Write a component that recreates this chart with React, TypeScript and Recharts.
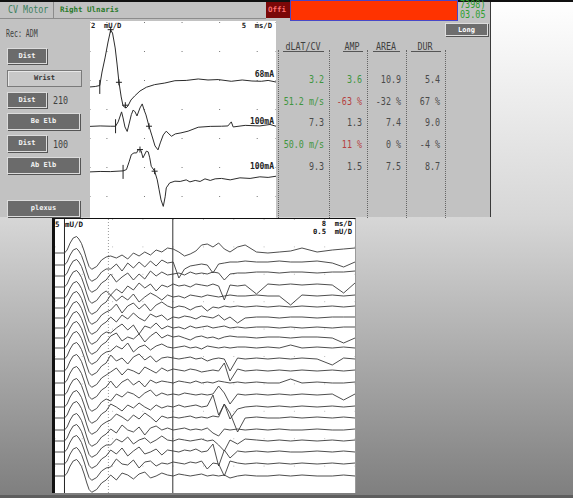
import React from "react";
import {
    LineChart,
    Line,
    XAxis,
    YAxis,
    CartesianGrid,
    ReferenceLine,
    ReferenceDot,
} from "recharts";

const MONO = '"DejaVu Sans Mono", "Liberation Mono", monospace';

// ---- motor conduction traces (ms, mV relative to each trace baseline) ----
const SITE_BASELINE = [7.52, 4.81, 1.66];
const STIM_LABELS = ["68mA", "100mA", "100mA"];

const WRIST_T = [0.5, 1.9, 3.1, 3.7, 4.5, 5.3, 6.0, 6.5, 7.2, 7.7, 8.2, 8.8, 9.3, 10.1, 10.6, 11.4, 12.4, 13.8, 15.5, 17.7, 20.4, 23.1, 26.1, 29.3, 31.9, 34.6, 38.1, 41.0, 43.6, 46.1, 47.9, 50];
const WRIST_MV = [0, 0.03, 0.1, 1.03, 2.0, 3.1, 3.93, 3.72, 2.69, 1.58, 0.34, -0.69, -1.31, -1.45, -1.31, -0.9, -0.62, -0.28, -0.02, 0.16, 0.27, 0.43, 0.45, 0.55, 0.48, 0.51, 0.39, 0.48, 0.41, 0.39, 0.45, 0.34];

const BE_ELB_T = [0.5, 3.2, 5.9, 7.3, 8.0, 8.9, 9.3, 9.8, 10.4, 10.9, 11.5, 12.0, 12.5, 13.0, 13.8, 14.4, 14.9, 15.4, 16.2, 17.0, 17.8, 18.6, 19.2, 20.0, 20.8, 21.5, 22.2, 23.2, 24.7, 26.6, 29.3, 32.5, 35.5, 37.2, 38.1, 38.6, 41.8, 45.7, 48.4, 50];
const BE_ELB_MV = [-0.01, 0.02, 0, 0, 0.3, 0.99, 0.57, -0.05, -0.36, 0.16, 0.8, 1.12, 0.99, 0.71, 1.26, 1.54, 1.12, 0.78, 0, -0.67, -1.36, -1.63, -1.15, -0.6, -0.34, -0.53, -0.69, -0.53, -0.46, -0.34, -0.07, -0.01, 0, 0.02, 0.3, -0.05, 0.06, 0.02, 0.12, 0];

const AB_ELB_T = [0.5, 3.2, 5.9, 9.3, 10.2, 10.9, 11.5, 12.2, 12.9, 13.3, 13.8, 14.1, 14.6, 15.5, 16.0, 16.4, 16.8, 17.7, 18.4, 18.9, 19.4, 20.0, 20.5, 20.8, 21.7, 23.1, 24.5, 26.1, 27.1, 28.5, 29.8, 31.1, 32.5, 33.8, 35.5, 37.8, 40.4, 43.1, 45.7, 47.9, 50];
const AB_ELB_MV = [0, 0.03, 0.02, 0.07, 0.16, 0.69, 1.19, 1.31, 1.31, 1.52, 1.54, 1.45, 0.97, 1.43, 1.38, 0.97, 0.39, 0.05, -0.55, -1.24, -1.93, -2.38, -1.72, -1.1, -0.76, -0.64, -0.66, -0.55, -0.69, -0.59, -0.66, -0.48, -0.59, -0.48, -0.45, -0.55, -0.41, -0.45, -0.34, -0.38, -0.3];

const STIM_T = [3.1, 7.3, 9.3];
const CURSOR_SITE = [0, 0, 0, 1, 2, 2];
const CURSOR_T = [6.0, 8.2, 9.9, 16.2, 13.8, 17.7];
const CURSOR_MV = [3.95, 0.32, -1.26, 0, 1.54, 0.05];

// ---- results table ----
const TABLE_HEADERS = ["dLAT/CV", "AMP", "AREA", "DUR"];
const TABLE_ROWS = [
    ["3.2", "3.6", "10.9", "5.4"],
    ["51.2 m/s", "-63 %", "-32 %", "67 %"],
    ["7.3", "1.3", "7.4", "9.0"],
    ["50.0 m/s", "11 %", "0 %", "-4 %"],
    ["9.3", "1.5", "7.5", "8.7"],
];
const TABLE_TONES = [
    ["g", "g", "n", "n"],
    ["g", "r", "n", "n"],
    ["n", "n", "n", "n"],
    ["g", "r", "n", "n"],
    ["n", "n", "n", "n"],
];

// ---- F-wave raster (ms, screen units) ----
const F_BASELINE = [240, 228, 217, 206, 195, 185, 175, 165, 155, 145, 134, 122, 110, 98, 86, 75, 63, 52, 41, 29, 17];
const M_TIME = [0.8, 3.3, 4.0, 4.8, 5.6, 6.5, 7.1, 7.8, 8.5, 9.2, 9.8, 10.5, 11.1, 11.8, 13.1, 14.3];
const M_AMP = [0, 0, 3, 10, 15, 16.5, 14, 9.5, 2, -7, -13.5, -16.3, -15, -13.5, -7, -4];
const F_TIME = [15.5, 17, 18.5, 20, 21.5, 23, 24.5, 26, 27.5, 29, 30.5, 32, 33.5, 35, 36.5, 38, 39.5, 41, 42.5, 44, 45.5, 47, 49, 51, 54, 57, 60, 63, 66, 70, 74, 77, 80];
const F_WAVES: number[][] = [
    [-3, -5, -2, -6, 0, -3, 1, -2, 3, 1, 5, 4, 1, -3, -1, 2, 8, 9, 6, 10, 4, 1, 6, 8, 1, 0, 1, 2, 5, 1, 3, 4, 5],
    [-4, 1, -6, 2, -3, 3, -2, 4, -1, 5, 2, 3, -13, -4, -1, 0, 1, 0, -8, 1, 2, 3, 3, 4, 3, 3, 4, 3, 3, 4, 2, -2, 3],
    [2, -6, -1, 3, -4, 2, -3, 5, 0, 4, 1, 2, 3, 1, 4, 2, 3, 2, 4, 3, -4, 2, 3, 3, 4, 4, 3, 4, 4, 3, 4, 4, 5],
    [-8, -2, -6, 1, -3, 4, -1, 3, -4, 2, 0, 3, 1, 2, 0, 3, 2, 1, 3, 1, -13, 2, 1, 2, -7, 3, 2, 3, 2, 3, 2, -6, 4],
    [3, -3, 2, -2, 4, -4, 1, 5, 2, -2, 3, 1, 2, 0, 3, 2, 1, 3, 2, 1, 2, 3, 2, 2, 3, 2, 2, -7, 3, 2, 3, 2, 3],
    [-2, 4, -5, 2, 5, -1, 4, -3, 3, 6, 2, 0, 2, 1, -2, 1, 2, -3, 1, 0, 2, 1, 2, 1, 2, 1, 2, 1, 2, 1, 2, 1, 2],
    [1, -4, 3, -1, 5, 0, -3, 4, 1, 3, -2, 1, 0, 2, 1, -1, 2, 1, 0, 3, -2, 1, -5, 0, 1, 1, 0, 1, 1, 0, 1, 1, 1],
    [-5, 0, 4, -2, 3, -6, 2, 0, 5, -1, 2, 0, 1, -1, 2, 0, 1, 2, 0, 1, 2, 0, 1, 0, 1, 1, 0, 1, 0, 1, 0, 1, 1],
    [2, 5, -3, 1, -1, 4, -4, 2, 6, 0, 3, 1, 2, 0, -2, 1, 2, 0, 1, -1, 1, 2, 1, 1, 0, 1, 1, 0, 1, 1, 0, -5, 0],
    [-3, 2, -1, 5, -4, 1, 3, -2, 2, 4, 1, 0, 1, 2, 0, 1, -1, 2, 1, 0, 1, 0, 1, 1, 0, 1, 0, 3, 0, 1, 0, 1, 0],
    [4, -2, 1, -5, 2, 5, -1, 3, -3, 1, 2, 1, 0, 1, 2, 0, 1, -2, 0, 1, 0, -12, 1, 0, 1, 0, 1, 0, 1, 0, -6, 1, 0],
    [-1, 3, -4, 2, 0, -3, 4, 1, -2, 3, 0, 2, 1, 0, 2, 1, -1, 0, 1, 0, 8, -10, 2, 0, 1, 0, 1, 0, 1, 0, 1, 0, 1],
    [2, -5, 1, 4, -2, 2, -4, 3, 0, 2, 1, 0, 2, 1, 0, 2, 0, 1, 0, 2, 1, 0, 1, 0, 1, 0, 0, 4, 0, 1, 0, 0, 1],
    [-6, 1, -2, 3, 1, -3, 2, 5, -1, 2, 0, 1, 0, 2, 1, 0, 1, 0, 1, 9, 2, -9, 1, 0, 1, 0, 1, 0, 1, 0, 1, -5, 1],
    [3, 0, -4, 2, -1, 4, 0, -3, 2, -1, 1, 0, 2, 0, 1, 2, 0, 1, 12, -8, 3, -12, -2, 0, 1, 0, 1, 0, 1, 0, 1, 0, 1],
    [-2, 4, 1, -3, 3, -1, 5, 1, -4, 2, 0, 1, 0, 1, 2, 0, 1, 0, 2, 1, 14, 5, -14, 0, 1, 0, 0, 1, 0, 1, 0, 1, 0],
    [1, -3, 5, 0, -2, 3, -5, 2, 4, 0, 2, 0, 1, 2, 0, 1, 0, 2, -3, -6, 1, 0, 1, 0, 1, 0, 1, 0, 0, 1, 0, 0, 1],
    [-4, 2, -1, 4, -3, 1, 3, -2, 1, 5, 1, 0, 2, 1, 0, 1, 2, 0, 1, -4, -10, 1, -3, 2, 1, 0, 1, 0, 1, 0, 1, 0, 1],
    [2, -2, 4, -4, 1, 5, -2, 0, 3, -3, 2, 1, 0, 2, 1, 3, 0, 1, 8, -14, 2, -6, 1, 0, 1, 0, 1, 0, 0, 1, 0, 1, 0],
    [-3, 5, 0, -1, 4, -4, 2, 3, -2, 1, 0, 2, 1, 0, 2, 1, 3, -5, 1, 0, -12, 3, 1, 0, 1, 0, 1, 0, 1, 0, 1, 0, 1],
    [1, -4, 3, 1, -3, 2, 4, -2, 0, 3, 1, 0, 2, 1, 0, 1, 2, 0, 1, 0, 1, -2, 0, 1, 0, 0, 1, 0, 1, 0, 0, 1, 0],
];

const BUTTONS = [
    { label: "Dist", y: 48, w: 40, h: 16, dark: true },
    { label: "Wrist", y: 70, w: 75, h: 17, dark: false },
    { label: "Dist", y: 92, w: 40, h: 16, dark: true },
    { label: "Be Elb", y: 113, w: 73, h: 17, dark: true },
    { label: "Dist", y: 135, w: 40, h: 17, dark: true },
    { label: "Ab Elb", y: 157, w: 73, h: 17, dark: true },
    { label: "plexus", y: 200, w: 73, h: 17, dark: true },
];

const TONE: Record<string, string> = { g: "#3f953f", r: "#b54040", n: "#4a4a4a" };

function Txt({ x, y, children, size = 11, color = "#404040", bold = false, sx = 0.76, align = "left" }: any) {
    const tr =
        align === "right"
            ? `translateX(-100%) scaleX(${sx})`
            : align === "center"
            ? `translateX(-50%) scaleX(${sx})`
            : `scaleX(${sx})`;
    return (
        <div
            style={{
                position: "absolute",
                left: x,
                top: y,
                fontFamily: MONO,
                fontSize: size,
                fontWeight: bold ? 700 : 400,
                color,
                lineHeight: 1,
                whiteSpace: "pre",
                transform: tr,
                transformOrigin: align === "right" ? "right top" : align === "center" ? "center top" : "left top",
            }}
        >
            {children}
        </div>
    );
}

function Box({ x, y, w, h, style }: any) {
    return <div style={{ position: "absolute", left: x, top: y, width: w, height: h, boxSizing: "border-box", ...style }} />;
}

const plusShape = (p: any) => (
    <path d={`M${p.cx - 3},${p.cy}h6M${p.cx},${p.cy - 3}v6`} stroke="#222" strokeWidth={1} fill="none" />
);
const stimShape = (p: any) => (
    <path d={`M${p.cx},${p.cy - 7}v14`} stroke="#222" strokeWidth={1} fill="none" />
);

export default function App() {
    const sites = [
        [WRIST_T, WRIST_MV],
        [BE_ELB_T, BE_ELB_MV],
        [AB_ELB_T, AB_ELB_MV],
    ].map(([ts, vs], i) => ts.map((t, k) => ({ t, v: vs[k] + SITE_BASELINE[i] })));

    const fTraces = F_WAVES.map((row, i) => [
        ...M_TIME.map((t, k) => ({ t, v: F_BASELINE[i] + M_AMP[k] })),
        ...F_TIME.map((t, k) => ({ t, v: F_BASELINE[i] + row[k] })),
    ]);

    const sepX = [278, 329, 367, 406, 445];
    const headX = [303, 352, 386, 425];
    const underline = [[283, 324], [343, 363], [373, 400], [411, 441]];
    const rowY = [73.5, 95.5, 117, 139, 160.5];

    return (
        <div
            style={{
                position: "absolute",
                left: 0,
                top: 0,
                width: 573,
                height: 498,
                overflow: "hidden",
                background: "linear-gradient(to bottom, #ffffff 0%, #d6d6d6 44%, #7e7e7e 100%)",
            }}
        >
            {/* top instrument panel */}
            <Box x={0} y={0} w={491} h={217} style={{ background: "#c2c2c2", borderRight: "1px solid #3a3a3a" }} />
            <Box x={0} y={0} w={573} h={2} style={{ background: "#111" }} />
            <Box x={0} y={18} w={266} h={1} style={{ background: "#8c8c8c" }} />
            <Box x={53} y={2} w={1} h={16} style={{ background: "#8c8c8c" }} />
            <Txt x={8} y={4} color="#3b7f5e">CV Motor</Txt>
            <Txt x={60} y={6} size={7.5} bold color="#2a7a2a" sx={1}>Right Ulnaris</Txt>
            <Box x={266} y={2} w={24} h={16} style={{ background: "#7a0808" }} />
            <Txt x={268} y={6} size={7.5} bold color="#ff7070" sx={1}>Offi</Txt>
            <Box x={290} y={0} w={168} h={21} style={{ background: "#ff3300", border: "1px solid #4848c8" }} />
            <Txt x={460} y={0} size={10} color="#2fa02f" sx={0.85}>7398)</Txt>
            <Txt x={460} y={10} size={10} color="#2fa02f" sx={0.85}>03.05</Txt>
            <Box x={445} y={23} w={43} h={13} style={{ background: "#6e6e6e", border: "1px solid #dedede", boxShadow: "1px 1px 0 #555" }} />
            <Txt x={466.5} y={26.5} size={7} bold color="#fff" sx={1} align="center">Long</Txt>

            <Txt x={6} y={28} sx={0.6}>Rec: ADM</Txt>
            {BUTTONS.map((b, i) => (
                <React.Fragment key={i}>
                    <Box
                        x={7}
                        y={b.y}
                        w={b.w}
                        h={b.h}
                        style={
                            b.dark
                                ? { background: "#6b6b6b", border: "1px solid #dcdcdc", boxShadow: "1px 1px 0 #555" }
                                : { background: "#c8c8c8", border: "1px solid #7a7a7a", boxShadow: "inset 1px 1px 0 #e8e8e8" }
                        }
                    />
                    <Txt x={7 + b.w / 2} y={b.y + b.h / 2 - 3.5} size={7} bold color={b.dark ? "#f4f4f4" : "#333"} sx={1} align="center">
                        {b.label}
                    </Txt>
                </React.Fragment>
            ))}
            <Txt x={53} y={95}>210</Txt>
            <Txt x={53} y={139}>100</Txt>

            {/* results table */}
            {TABLE_HEADERS.map((h, i) => (
                <Txt key={h} x={headX[i]} y={40.5} align="center">{h}</Txt>
            ))}
            {underline.map(([a, b], i) => (
                <Box key={i} x={a} y={51} w={b - a} h={1} style={{ background: "#555" }} />
            ))}
            {sepX.map((x) => (
                <Box key={x} x={x} y={50} w={1} h={168} style={{ borderLeft: "1px dotted #666" }} />
            ))}
            {TABLE_ROWS.map((row, r) =>
                row.map((cell, c) => (
                    <Txt key={`${r}-${c}`} x={sepX[c + 1] - 5} y={rowY[r]} align="right" color={TONE[TABLE_TONES[r][c]]}>
                        {cell}
                    </Txt>
                ))
            )}

            {/* motor traces */}
            <Box x={90} y={21} w={186} h={197} style={{ background: "#fff" }} />
            <div style={{ position: "absolute", left: 90, top: 22 }}>
                <LineChart width={186} height={196} margin={{ top: 0, right: 0, bottom: 0, left: 0 }}>
                    <CartesianGrid horizontal={false} stroke="#777" strokeDasharray="1 28" />
                    <XAxis type="number" dataKey="t" domain={[0.5, 50]} ticks={[5, 10, 15, 20, 25, 30, 35, 40, 45]} hide allowDataOverflow />
                    <YAxis type="number" domain={[-1.52, 12]} hide allowDataOverflow />
                    {sites.map((d, i) => (
                        <Line key={i} data={d} dataKey="v" type="linear" stroke="#2c2c2c" strokeWidth={1} dot={false} isAnimationActive={false} />
                    ))}
                    {STIM_T.map((t, i) => (
                        <ReferenceDot key={`s${i}`} x={t} y={SITE_BASELINE[i]} r={0} shape={stimShape} />
                    ))}
                    {CURSOR_T.map((t, i) => (
                        <ReferenceDot key={`c${i}`} x={t} y={CURSOR_MV[i] + SITE_BASELINE[CURSOR_SITE[i]]} r={0} shape={plusShape} />
                    ))}
                </LineChart>
            </div>
            <Txt x={91} y={21.5} size={7.2} bold color="#222" sx={1}>{"2  mU/D"}</Txt>
            <Txt x={272} y={21.5} size={7.2} bold color="#222" sx={1} align="right">{"5  ms/D"}</Txt>
            {STIM_LABELS.map((l, i) => (
                <Txt key={i} x={274} y={[71, 117.5, 163][i]} size={8} bold color="#222" sx={1} align="right">{l}</Txt>
            ))}

            {/* F-wave raster */}
            <Box x={52} y={218} w={304} h={275} style={{ background: "#fff", borderTop: "1px solid #111", borderLeft: "3px solid #111", borderRight: "1px solid #9a9a9a" }} />
            <div style={{ position: "absolute", left: 55, top: 219 }}>
                <LineChart width={300} height={274} margin={{ top: 0, right: 0, bottom: 0, left: 0 }}>
                    <CartesianGrid horizontal={false} stroke="#bdbdbd" strokeDasharray="1 26.4" />
                    <XAxis type="number" dataKey="t" domain={[0.8, 80]} ticks={[8, 16, 24, 32, 40, 48, 56, 64, 72]} hide allowDataOverflow />
                    <YAxis type="number" domain={[0, 274]} hide allowDataOverflow />
                    <ReferenceLine x={3.3} stroke="#222" />
                    <ReferenceLine x={14.9} stroke="#999" strokeDasharray="1 2" />
                    <ReferenceLine x={31.9} stroke="#333" />
                    {fTraces.map((d, i) => (
                        <Line key={i} data={d} dataKey="v" type="linear" stroke="#3a3a3a" strokeWidth={0.9} dot={false} isAnimationActive={false} />
                    ))}
                </LineChart>
            </div>
            <Txt x={55} y={221} size={7.5} bold color="#111" sx={1}>5</Txt>
            <Txt x={65} y={221} size={7.5} bold color="#111" sx={1}>mU/D</Txt>
            <Txt x={352} y={220} size={7.2} bold color="#111" sx={1} align="right">{"8  ms/D"}</Txt>
            <Txt x={352} y={227.5} size={7.2} bold color="#111" sx={1} align="right">{"0.5  mU/D"}</Txt>
            <Box x={0} y={495} w={573} h={3} style={{ background: "#5e5e5e" }} />
        </div>
    );
}
